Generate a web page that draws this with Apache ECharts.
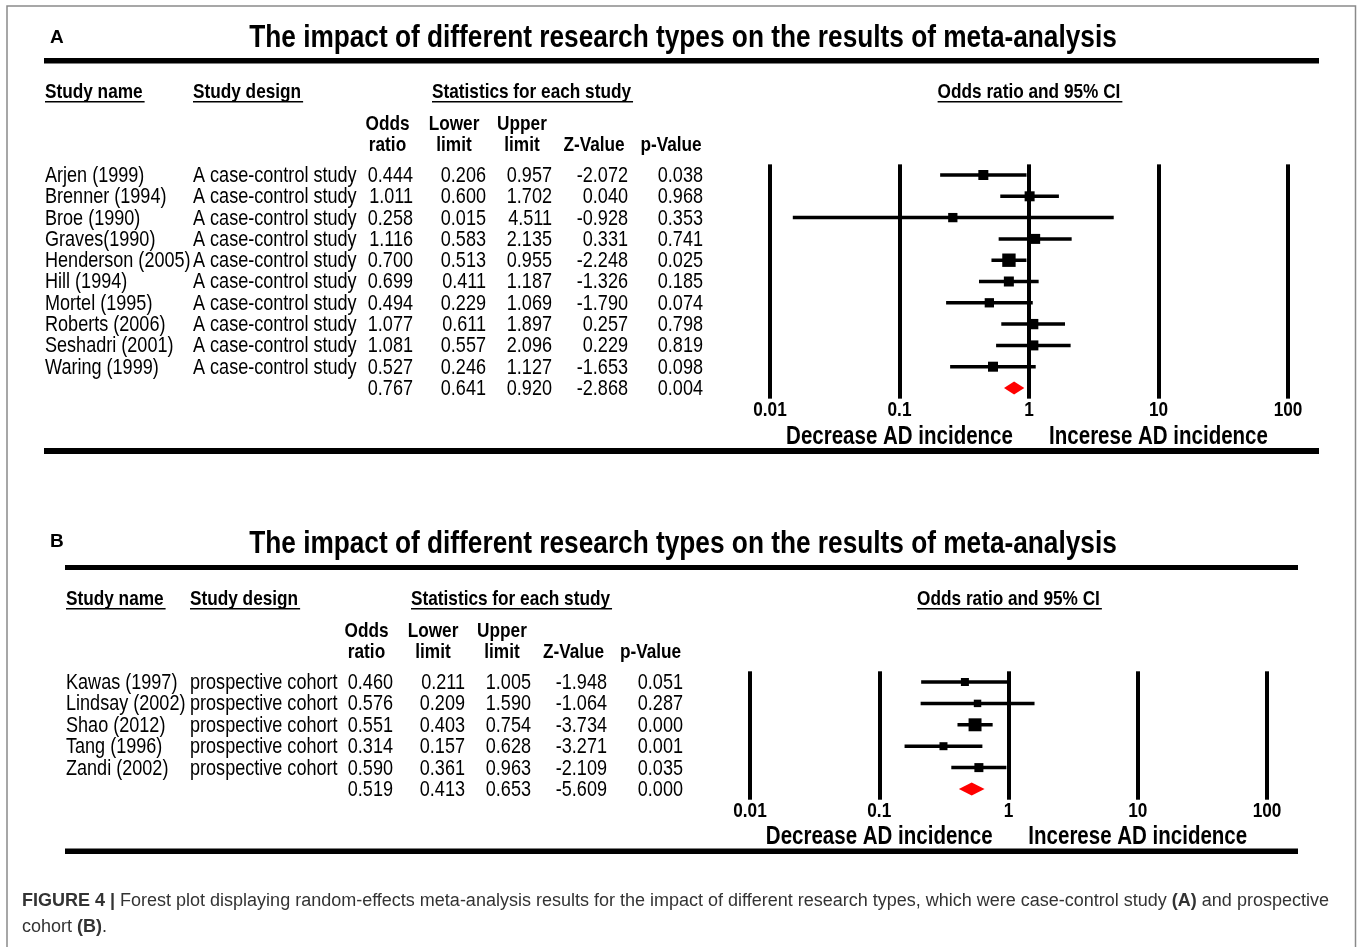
<!DOCTYPE html>
<html><head><meta charset="utf-8">
<script src="https://cdn.jsdelivr.net/npm/echarts@6/dist/echarts.min.js"></script>
<style>html,body{margin:0;padding:0;background:#fff}#c{width:1357px;height:947px}</style>
</head><body><div id="c"></div>
<script>
// ---------- DATA ----------
const studiesA = ['Arjen (1999)','Brenner (1994)','Broe (1990)','Graves(1990)','Henderson (2005)','Hill (1994)','Mortel (1995)','Roberts (2006)','Seshadri (2001)','Waring (1999)'];
const designsA = ['A case-control study','A case-control study','A case-control study','A case-control study','A case-control study','A case-control study','A case-control study','A case-control study','A case-control study','A case-control study'];
const orA    = [0.444,1.011,0.258,1.116,0.700,0.699,0.494,1.077,1.081,0.527];
const lowerA = [0.206,0.600,0.015,0.583,0.513,0.411,0.229,0.611,0.557,0.246];
const upperA = [0.957,1.702,4.511,2.135,0.955,1.187,1.069,1.897,2.096,1.127];
const zA     = [-2.072,0.040,-0.928,0.331,-2.248,-1.326,-1.790,0.257,0.229,-1.653];
const pA     = [0.038,0.968,0.353,0.741,0.025,0.185,0.074,0.798,0.819,0.098];
const weightsA = [9,9,7,9,22,9,7,10,9,9];          // relative weights
const pooledA  = [0.767,0.641,0.920,-2.868,0.004]; // OR, lower, upper, Z, p

const studiesB = ['Kawas (1997)','Lindsay (2002)','Shao (2012)','Tang (1996)','Zandi (2002)'];
const designsB = ['prospective cohort','prospective cohort','prospective cohort','prospective cohort','prospective cohort'];
const orB    = [0.460,0.576,0.551,0.314,0.590];
const lowerB = [0.211,0.209,0.403,0.157,0.361];
const upperB = [1.005,1.590,0.754,0.628,0.963];
const zB     = [-1.948,-1.064,-3.734,-3.271,-2.109];
const pB     = [0.051,0.287,0.000,0.001,0.035];
const weightsB = [4,3,20,4,6.3];
const pooledB  = [0.519,0.413,0.653,-5.609,0.000];

const tickValues = [0.01,0.1,1,10,100];
const tickLabels = ['0.01','0.1','1','10','100'];
const sideValues = [0.1,10];
const sideLabels = ['Decrease AD incidence','Incerese AD incidence'];
const titleText = 'The impact of different research types on the results of meta-analysis';
const colHead1 = ['Odds','Lower','Upper','',''];
const colHead2 = ['ratio','limit','limit','Z-Value','p-Value'];

// ---------- LAYOUT ----------
const F = '"Liberation Sans", Arial, Helvetica, sans-serif';
const SX = 0.82;
const SXROW = 0.84;
const ctx = document.createElement('canvas').getContext('2d');
function tw(t, size, bold){ ctx.font = (bold?'bold ':'') + size + 'px ' + F; return ctx.measureText(t).width * SX; }
function T(x, y, text, size, bold, align, sx){
  return {type:'text', x:x, y:y, scaleX:(sx===undefined?SX:sx), silent:true,
    style:{text:text, font:(bold?'bold ':'')+size+'px '+F, fill:'#000', align:align||'left', verticalAlign:'middle', textAlign:align||'left', textVerticalAlign:'middle'}};
}
function R(x, y, w, h){ return {type:'rect', silent:true, shape:{x:x,y:y,width:w,height:h}, style:{fill:'#000'}}; }

const panels = [
  {studies:studiesA, designs:designsA, or:orA, lo:lowerA, hi:upperA, z:zA, p:pA, w:weightsA, pooled:pooledA,
   grid:{left:770, top:164.35, width:518, height:234.3},
   letter:[50,37.5], titleY:38, lineTop:[44,58,1275,5.5], lineBot:[44,448,1275,6],
   headY:92, nameX:45, designX:193, statsX:432, colY:[124,145], colX:[387.5,454,522,594,671],
   numX:[413,486,552,628,703], tickDy:12, sideDy:38.5},
  {studies:studiesB, designs:designsB, or:orB, lo:lowerB, hi:upperB, z:zB, p:pB, w:weightsB, pooled:pooledB,
   grid:{left:750, top:671.3, width:517, height:128.4},
   letter:[50,541.5], titleY:544, lineTop:[65,565,1233,5], lineBot:[65,848.5,1233,5.5],
   headY:599, nameX:66, designX:190, statsX:411, colY:[631,652], colX:[366.5,433,502,573.5,650.5],
   numX:[393,465,531,607,683], tickDy:11.5, sideDy:37.5}
];

const graphics = [];
graphics.push({type:'rect', silent:true, shape:{x:7,y:6,width:1348.5,height:1000}, style:{fill:'none', stroke:'#8a8a8a', lineWidth:1.5}});
const grids = [], xAxes = [], yAxes = [], series = [];

panels.forEach((P, g) => {
  const n = P.studies.length;
  // static texts
  graphics.push(T(P.letter[0], P.letter[1], g===0?'A':'B', 19, true, 'left', 1));
  graphics.push(T(683, P.titleY, titleText, 32, true, 'center'));
  graphics.push(R.apply(null, P.lineTop));
  graphics.push(R.apply(null, P.lineBot));
  const heads = [[P.nameX,'Study name'],[P.designX,'Study design'],[P.statsX,'Statistics for each study']];
  const ciHead = 'Odds ratio and 95% CI';
  const ciW = tw(ciHead, 21, true);
  heads.push([P.grid.left + P.grid.width/2 - ciW/2, ciHead]);
  heads.forEach(h => {
    graphics.push(T(h[0], P.headY, h[1], 21, true, 'left'));
    graphics.push(R(h[0], P.headY + 9, tw(h[1], 21, true) + 2, 1.6));
  });
  P.colX.forEach((x, k) => {
    if (colHead1[k]) graphics.push(T(x, P.colY[0], colHead1[k], 21, true, 'center'));
    graphics.push(T(x, P.colY[1], colHead2[k], 21, true, 'center'));
  });

  grids.push(Object.assign({containLabel:false}, P.grid));
  xAxes.push({type:'log', logBase:10, gridIndex:g, min:0.01, max:100,
    axisLine:{show:false}, axisTick:{show:false}, axisLabel:{show:false},
    splitLine:{show:true, showMinLine:true, showMaxLine:true, lineStyle:{color:'#000', width:4}}});
  yAxes.push({type:'value', gridIndex:g, inverse:true, min:-0.5, max:n+0.5, show:false});

  // table text
  const tableData = [];
  for (let i = 0; i <= n; i++) tableData.push([1, i]);
  series.push({type:'custom', xAxisIndex:g, yAxisIndex:g, clip:false, silent:true, data:tableData, encode:{x:0,y:1},
    renderItem:(params, api) => {
      const i = params.dataIndex;
      const y = api.coord([1, i])[1] + 1;
      const vals = i < n ? [P.or[i], P.lo[i], P.hi[i], P.z[i], P.p[i]] : P.pooled;
      const ch = [];
      if (i < n) {
        ch.push(T(P.nameX, y, P.studies[i], 21.5, false, 'left', SXROW));
        ch.push(T(P.designX, y, P.designs[i], 21.5, false, 'left', SXROW));
      }
      vals.forEach((v, k) => ch.push(T(P.numX[k], y, v.toFixed(3), 21.5, false, 'right', SXROW)));
      return {type:'group', children:ch};
    }});

  // CI lines + boxes
  series.push({type:'custom', xAxisIndex:g, yAxisIndex:g, clip:false, silent:true,
    data:P.or.map((v,i)=>[v, P.lo[i], P.hi[i], i, P.w[i]]), encode:{x:[0,1,2], y:3},
    renderItem:(params, api) => {
      const r = api.value(3);
      const a = api.coord([api.value(1), r]), b = api.coord([api.value(2), r]), c = api.coord([api.value(0), r]);
      const s = 4 + 2*Math.sqrt(api.value(4));
      return {type:'group', children:[
        {type:'line', shape:{x1:a[0],y1:a[1],x2:b[0],y2:b[1]}, style:{stroke:'#000', lineWidth:3.5}},
        {type:'rect', shape:{x:c[0]-s/2, y:c[1]-s/2, width:s, height:s}, style:{fill:'#000'}}
      ]};
    }});

  // pooled diamond
  series.push({type:'custom', xAxisIndex:g, yAxisIndex:g, clip:false, silent:true,
    data:[[P.pooled[0], P.pooled[1], P.pooled[2], n]], encode:{x:[0,1,2], y:3},
    renderItem:(params, api) => {
      const r = api.value(3);
      const a = api.coord([api.value(1), r]), b = api.coord([api.value(2), r]), c = api.coord([api.value(0), r]);
      return {type:'polygon', shape:{points:[a,[c[0],c[1]-6.5],b,[c[0],c[1]+6.5]]}, style:{fill:'#ff0000'}};
    }});

  // tick labels
  series.push({type:'custom', xAxisIndex:g, yAxisIndex:g, clip:false, silent:true,
    data:tickValues.map(v=>[v, n+0.5]), encode:{x:0,y:1},
    renderItem:(params, api) => {
      const c = api.coord([api.value(0), api.value(1)]);
      return T(c[0], c[1] + P.tickDy, tickLabels[params.dataIndex], 21, true, 'center');
    }});
  // side labels
  series.push({type:'custom', xAxisIndex:g, yAxisIndex:g, clip:false, silent:true,
    data:sideValues.map(v=>[v, n+0.5]), encode:{x:0,y:1},
    renderItem:(params, api) => {
      const c = api.coord([api.value(0), api.value(1)]);
      return T(c[0], c[1] + P.sideDy, sideLabels[params.dataIndex], 25, true, 'center');
    }});
});

// caption
const capRich = {b:{fontWeight:'bold', fontSize:18, fontFamily:F, fill:'#333'}};
graphics.push({type:'text', x:22, y:901, silent:true, style:{text:'{b|FIGURE 4 |} Forest plot displaying random-effects meta-analysis results for the impact of different research types, which were case-control study {b|(A)} and prospective', font:'18px '+F, fill:'#333', rich:capRich, verticalAlign:'middle', textVerticalAlign:'middle'}});
graphics.push({type:'text', x:22, y:927, silent:true, style:{text:'cohort {b|(B)}.', font:'18px '+F, fill:'#333', rich:capRich, verticalAlign:'middle', textVerticalAlign:'middle'}});

const chart = echarts.init(document.getElementById('c'), null, {renderer:'canvas'});
chart.setOption({animation:false, backgroundColor:'#fff', grid:grids, xAxis:xAxes, yAxis:yAxes, series:series, graphic:{elements:graphics}});
</script></body></html>
